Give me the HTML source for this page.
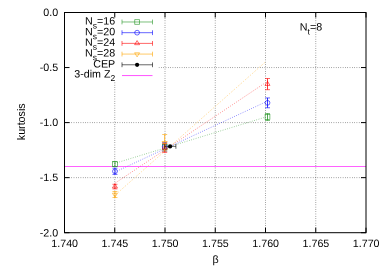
<!DOCTYPE html>
<html><head><meta charset="utf-8"><title>kurtosis</title>
<style>html,body{margin:0;padding:0;background:#fff;}svg{display:block;will-change:transform;}text{font-family:"Liberation Sans",sans-serif;font-size:10.7px;fill:#000;}</style>
</head><body>
<svg width="382" height="267" viewBox="0 0 382 267">
<rect x="0" y="0" width="382" height="267" fill="#fff"/>
<g stroke="#000" stroke-width="0.58" stroke-dasharray="0.62 1.68" fill="none">
<line x1="114.75" y1="232.70" x2="114.75" y2="12.50"/>
<line x1="165.00" y1="232.70" x2="165.00" y2="12.50"/>
<line x1="215.25" y1="232.70" x2="215.25" y2="12.50"/>
<line x1="265.50" y1="232.70" x2="265.50" y2="12.50"/>
<line x1="315.75" y1="232.70" x2="315.75" y2="12.50"/>
<line x1="64.50" y1="67.55" x2="366.00" y2="67.55"/>
<line x1="64.50" y1="122.60" x2="366.00" y2="122.60"/>
<line x1="64.50" y1="177.65" x2="366.00" y2="177.65"/>
</g>
<line x1="114.85" y1="163.36" x2="265.50" y2="117.11" stroke="#259625" stroke-width="0.6" stroke-dasharray="0.7 1.65"/>
<line x1="114.85" y1="172.09" x2="265.50" y2="102.04" stroke="#0000ff" stroke-width="0.6" stroke-dasharray="0.7 1.65"/>
<line x1="114.85" y1="183.31" x2="265.50" y2="82.67" stroke="#ff0000" stroke-width="0.6" stroke-dasharray="0.7 1.65"/>
<line x1="114.85" y1="195.35" x2="265.50" y2="61.88" stroke="#ffa500" stroke-width="0.6" stroke-dasharray="0.7 1.65"/>
<line x1="64.50" y1="166.5" x2="366.00" y2="166.5" stroke="#ff00ff" stroke-width="0.62"/>
<path d="M114.95 161.70 V166.50" fill="none" stroke="#259625" stroke-width="0.8"/><path d="M112.45 161.70 H117.45 M112.45 166.50 H117.45" fill="none" stroke="#259625" stroke-width="0.6"/>
<rect x="112.55" y="161.70" width="4.80" height="4.80" fill="none" stroke="#259625" stroke-width="0.6"/>
<path d="M164.70 144.00 V150.00" fill="none" stroke="#259625" stroke-width="0.8"/><path d="M162.20 144.00 H167.20 M162.20 150.00 H167.20" fill="none" stroke="#259625" stroke-width="0.6"/>
<rect x="162.30" y="144.60" width="4.80" height="4.80" fill="none" stroke="#259625" stroke-width="0.6"/>
<path d="M267.50 113.50 V120.50" fill="none" stroke="#259625" stroke-width="0.8"/><path d="M265.00 113.50 H270.00 M265.00 120.50 H270.00" fill="none" stroke="#259625" stroke-width="0.6"/>
<rect x="265.10" y="114.60" width="4.80" height="4.80" fill="none" stroke="#259625" stroke-width="0.6"/>
<path d="M114.95 168.20 V174.40" fill="none" stroke="#0000ff" stroke-width="0.8"/><path d="M112.45 168.20 H117.45 M112.45 174.40 H117.45" fill="none" stroke="#0000ff" stroke-width="0.6"/>
<circle cx="114.95" cy="171.30" r="2.4" fill="none" stroke="#0000ff" stroke-width="0.6"/>
<path d="M164.70 142.40 V151.20" fill="none" stroke="#0000ff" stroke-width="0.8"/><path d="M162.20 142.40 H167.20 M162.20 151.20 H167.20" fill="none" stroke="#0000ff" stroke-width="0.6"/>
<circle cx="164.70" cy="146.80" r="2.4" fill="none" stroke="#0000ff" stroke-width="0.6"/>
<path d="M267.50 97.95 V107.75" fill="none" stroke="#0000ff" stroke-width="0.8"/><path d="M265.00 97.95 H270.00 M265.00 107.75 H270.00" fill="none" stroke="#0000ff" stroke-width="0.6"/>
<circle cx="267.50" cy="102.85" r="2.4" fill="none" stroke="#0000ff" stroke-width="0.6"/>
<path d="M114.95 184.30 V188.90" fill="none" stroke="#ff0000" stroke-width="0.8"/><path d="M112.45 184.30 H117.45 M112.45 188.90 H117.45" fill="none" stroke="#ff0000" stroke-width="0.6"/>
<path d="M114.95 183.80 L112.45 187.90 L117.45 187.90 Z" fill="none" stroke="#ff0000" stroke-width="0.6"/>
<path d="M164.70 143.40 V152.40" fill="none" stroke="#ff0000" stroke-width="0.8"/><path d="M162.20 143.40 H167.20 M162.20 152.40 H167.20" fill="none" stroke="#ff0000" stroke-width="0.6"/>
<path d="M164.70 145.10 L162.20 149.20 L167.20 149.20 Z" fill="none" stroke="#ff0000" stroke-width="0.6"/>
<path d="M267.50 78.50 V89.70" fill="none" stroke="#ff0000" stroke-width="0.8"/><path d="M265.00 78.50 H270.00 M265.00 89.70 H270.00" fill="none" stroke="#ff0000" stroke-width="0.6"/>
<path d="M267.50 81.30 L265.00 85.40 L270.00 85.40 Z" fill="none" stroke="#ff0000" stroke-width="0.6"/>
<path d="M114.95 191.50 V197.50" fill="none" stroke="#ffa500" stroke-width="0.8"/><path d="M112.45 191.50 H117.45 M112.45 197.50 H117.45" fill="none" stroke="#ffa500" stroke-width="0.6"/>
<path d="M114.95 197.30 L112.45 193.20 L117.45 193.20 Z" fill="none" stroke="#ffa500" stroke-width="0.6"/>
<path d="M164.70 134.50 V151.10" fill="none" stroke="#ffa500" stroke-width="0.8"/><path d="M162.20 134.50 H167.20 M162.20 151.10 H167.20" fill="none" stroke="#ffa500" stroke-width="0.6"/>
<path d="M164.70 145.60 L162.20 141.50 L167.20 141.50 Z" fill="none" stroke="#ffa500" stroke-width="0.6"/>
<path d="M164.70 146.40 H175.90 M164.70 144.00 V148.80 M175.90 144.00 V148.80" fill="none" stroke="#000" stroke-width="0.6"/>
<circle cx="170.10" cy="146.40" r="2.1" fill="#000"/>
<rect x="64.50" y="12.50" width="93.80" height="69.00" fill="#fff"/>
<g stroke="#000" stroke-width="1.0" fill="none">
<rect x="64.50" y="12.50" width="301.50" height="220.20"/>
<path d="M64.50 232.70 v-5.00 M64.50 12.50 v5.00"/>
<path d="M114.75 232.70 v-5.00 M114.75 12.50 v5.00"/>
<path d="M165.00 232.70 v-5.00 M165.00 12.50 v5.00"/>
<path d="M215.25 232.70 v-5.00 M215.25 12.50 v5.00"/>
<path d="M265.50 232.70 v-5.00 M265.50 12.50 v5.00"/>
<path d="M315.75 232.70 v-5.00 M315.75 12.50 v5.00"/>
<path d="M366.00 232.70 v-5.00 M366.00 12.50 v5.00"/>
<path d="M64.50 12.50 h5.00 M366.00 12.50 h-5.00"/>
<path d="M64.50 67.55 h5.00 M366.00 67.55 h-5.00"/>
<path d="M64.50 122.60 h5.00 M366.00 122.60 h-5.00"/>
<path d="M64.50 177.65 h5.00 M366.00 177.65 h-5.00"/>
<path d="M64.50 232.70 h5.00 M366.00 232.70 h-5.00"/>
</g>
<g transform="matrix(1 0.0006 0 1 0 0)">
<text x="64.70" y="246.86" text-anchor="middle">1.740</text>
<text x="114.95" y="246.83" text-anchor="middle">1.745</text>
<text x="165.20" y="246.80" text-anchor="middle">1.750</text>
<text x="215.45" y="246.77" text-anchor="middle">1.755</text>
<text x="265.70" y="246.74" text-anchor="middle">1.760</text>
<text x="315.95" y="246.71" text-anchor="middle">1.765</text>
<text x="366.20" y="246.68" text-anchor="middle">1.770</text>
<text x="58.1" y="15.97" text-anchor="end">0.0</text>
<text x="58.1" y="70.87" text-anchor="end">-0.5</text>
<text x="58.1" y="125.92" text-anchor="end">-1.0</text>
<text x="58.1" y="181.07" text-anchor="end">-1.5</text>
<text x="58.1" y="236.42" text-anchor="end">-2.0</text>
<text x="215.55" y="262.97" text-anchor="middle" font-size="8.9">β</text>
</g>
<text transform="translate(24.75 121.8) rotate(-90)" text-anchor="middle">kurtosis</text>
<g transform="matrix(1 0.0006 0 1 0 0)">
<text x="299.8" y="30.4">N<tspan dy="3.9" font-size="8.56">t</tspan><tspan dy="-3.9">=8</tspan></text>
<text x="115.2" y="24.53" text-anchor="end">N<tspan dy="3.9" font-size="8.56">s</tspan><tspan dy="-3.9">=16</tspan></text>
<path d="M122.00 21.90 H152.50 M122.00 19.50 V24.30 M152.50 19.50 V24.30" fill="none" stroke="#259625" stroke-width="0.6"/>
<rect x="134.70" y="19.50" width="4.80" height="4.80" fill="none" stroke="#259625" stroke-width="0.6"/>
<text x="115.2" y="35.18" text-anchor="end">N<tspan dy="3.9" font-size="8.56">s</tspan><tspan dy="-3.9">=20</tspan></text>
<path d="M122.00 32.60 H152.50 M122.00 30.20 V35.00 M152.50 30.20 V35.00" fill="none" stroke="#0000ff" stroke-width="0.6"/>
<circle cx="137.10" cy="32.60" r="2.4" fill="none" stroke="#0000ff" stroke-width="0.6"/>
<text x="115.2" y="45.73" text-anchor="end">N<tspan dy="3.9" font-size="8.56">s</tspan><tspan dy="-3.9">=24</tspan></text>
<path d="M122.00 43.30 H152.50 M122.00 40.90 V45.70 M152.50 40.90 V45.70" fill="none" stroke="#ff0000" stroke-width="0.6"/>
<path d="M137.10 40.50 L134.60 44.60 L139.60 44.60 Z" fill="none" stroke="#ff0000" stroke-width="0.6"/>
<text x="115.2" y="56.33" text-anchor="end">N<tspan dy="3.9" font-size="8.56">s</tspan><tspan dy="-3.9">=28</tspan></text>
<path d="M122.00 54.00 H152.50 M122.00 51.60 V56.40 M152.50 51.60 V56.40" fill="none" stroke="#ffa500" stroke-width="0.6"/>
<path d="M137.10 56.80 L134.60 52.70 L139.60 52.70 Z" fill="none" stroke="#ffa500" stroke-width="0.6"/>
<text x="115.2" y="67.43" text-anchor="end">CEP</text>
<path d="M122.00 64.70 H152.50 M122.00 62.30 V67.10 M152.50 62.30 V67.10" fill="none" stroke="#000" stroke-width="0.6"/>
<circle cx="137.10" cy="64.70" r="2.1" fill="#000"/>
<text x="115.2" y="77.38" text-anchor="end">3-dim Z<tspan dy="3.5" font-size="8.56">2</tspan></text>
<line x1="122.00" y1="75.50" x2="152.50" y2="75.50" stroke="#ff00ff" stroke-width="0.68"/>
</g>
</svg></body></html>
